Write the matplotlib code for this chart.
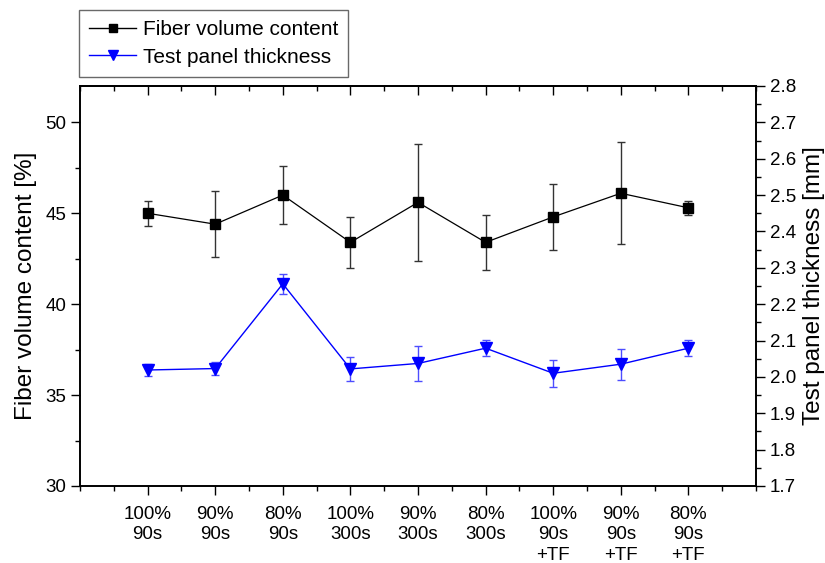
import matplotlib
matplotlib.use('Agg')
import matplotlib.pyplot as plt
from matplotlib.lines import Line2D
from matplotlib.ticker import MultipleLocator

plt.rcParams['font.family'] = ['Liberation Sans', 'DejaVu Sans']

# Sample conditions (fiber fraction / cure time / +TF)
labels = ['100%\n90s', '90%\n90s', '80%\n90s', '100%\n300s', '90%\n300s',
          '80%\n300s', '100%\n90s\n+TF', '90%\n90s\n+TF', '80%\n90s\n+TF']

# Fiber volume content [%]
fvc = [45.0, 44.4, 46.0, 43.4, 45.6, 43.4, 44.8, 46.1, 45.3]
fvc_err = [0.7, 1.8, 1.6, 1.4, 3.2, 1.5, 1.8, 2.8, 0.4]

# Test panel thickness [mm]
thick = [2.019, 2.023, 2.256, 2.022, 2.037, 2.079, 2.010, 2.035, 2.079]
thick_err = [0.016, 0.019, 0.027, 0.033, 0.047, 0.022, 0.037, 0.043, 0.022]


def main():
    fig = plt.figure(figsize=(8.25, 5.63), dpi=100)
    ax = fig.add_axes([80 / 825, 1 - 486 / 563, 676 / 825, 400 / 563])
    ax2 = ax.twinx()

    x = list(range(1, len(labels) + 1))

    ax.errorbar(x, fvc, yerr=fvc_err, color='black', ecolor='#333333',
                marker='s', markersize=6.5, linewidth=0.9,
                elinewidth=1.0, capsize=3, capthick=1.0)
    ax2.errorbar(x, thick, yerr=thick_err, color='#0000ff', ecolor='#4d4dff',
                 marker='v', markersize=8, linewidth=1.0,
                 elinewidth=1.0, capsize=3, capthick=1.0)

    # left axis
    ax.set_xlim(0, 10)
    ax.set_ylim(30, 52)
    ax.yaxis.set_major_locator(MultipleLocator(5))
    ax.yaxis.set_minor_locator(MultipleLocator(2.5))
    ax.set_xticks(x)
    ax.set_xticklabels(labels, linespacing=1.25, ha='center')
    ax.xaxis.set_minor_locator(MultipleLocator(0.5))
    ax.tick_params(axis='both', which='major', direction='out', length=6.5,
                   width=1.0, labelsize=13.5)
    ax.tick_params(axis='both', which='minor', direction='out', length=3.5,
                   width=1.0)
    ax.tick_params(axis='x', which='major', pad=8)
    ax.tick_params(axis='y', pad=3.5)
    ax.set_ylabel('Fiber volume content [%]', fontsize=17.5, labelpad=6)

    # top axis: ticks pointing inward, no labels
    top = ax.secondary_xaxis('top')
    top.set_xticks(x)
    top.xaxis.set_minor_locator(MultipleLocator(0.5))
    top.tick_params(axis='x', which='major', direction='in', length=6.5,
                    width=1.0, labeltop=False)
    top.tick_params(axis='x', which='minor', direction='in', length=3.5,
                    width=1.0)

    # right axis
    ax2.set_ylim(1.7, 2.8)
    ax2.yaxis.set_major_locator(MultipleLocator(0.1))
    ax2.yaxis.set_minor_locator(MultipleLocator(0.05))
    ax2.yaxis.set_major_formatter(plt.FormatStrFormatter('%.1f'))
    ax2.tick_params(axis='y', which='major', direction='out', length=6.5,
                    width=1.0, labelsize=13.5, pad=3.5)
    ax2.tick_params(axis='y', which='minor', direction='out', length=3.5,
                    width=1.0)
    ax2.set_ylabel('Test panel thickness [mm]', fontsize=17.5, labelpad=5)

    for a in (ax, ax2):
        for s in a.spines.values():
            s.set_linewidth(1.2)
    top.spines['top'].set_linewidth(1.2)

    # legend with plain line+marker handles (no error bars)
    h1 = Line2D([], [], color='black', marker='s', markersize=6, linewidth=1.0)
    h2 = Line2D([], [], color='#0000ff', marker='v', markersize=7, linewidth=1.0)
    leg = fig.legend([h1, h2], ['Fiber volume content', 'Test panel thickness'],
                     loc='upper left', bbox_to_anchor=(79 / 825, 1 - 10 / 563),
                     fontsize=15, frameon=True, fancybox=False,
                     handlelength=2.25, handletextpad=0.3, borderpad=0.5,
                     labelspacing=0.4, borderaxespad=0)
    leg.get_frame().set_edgecolor('#444444')
    leg.get_frame().set_linewidth(1.0)

    fig.savefig('out.png', dpi=100)
    plt.close(fig)


if __name__ == '__main__':
    main()
